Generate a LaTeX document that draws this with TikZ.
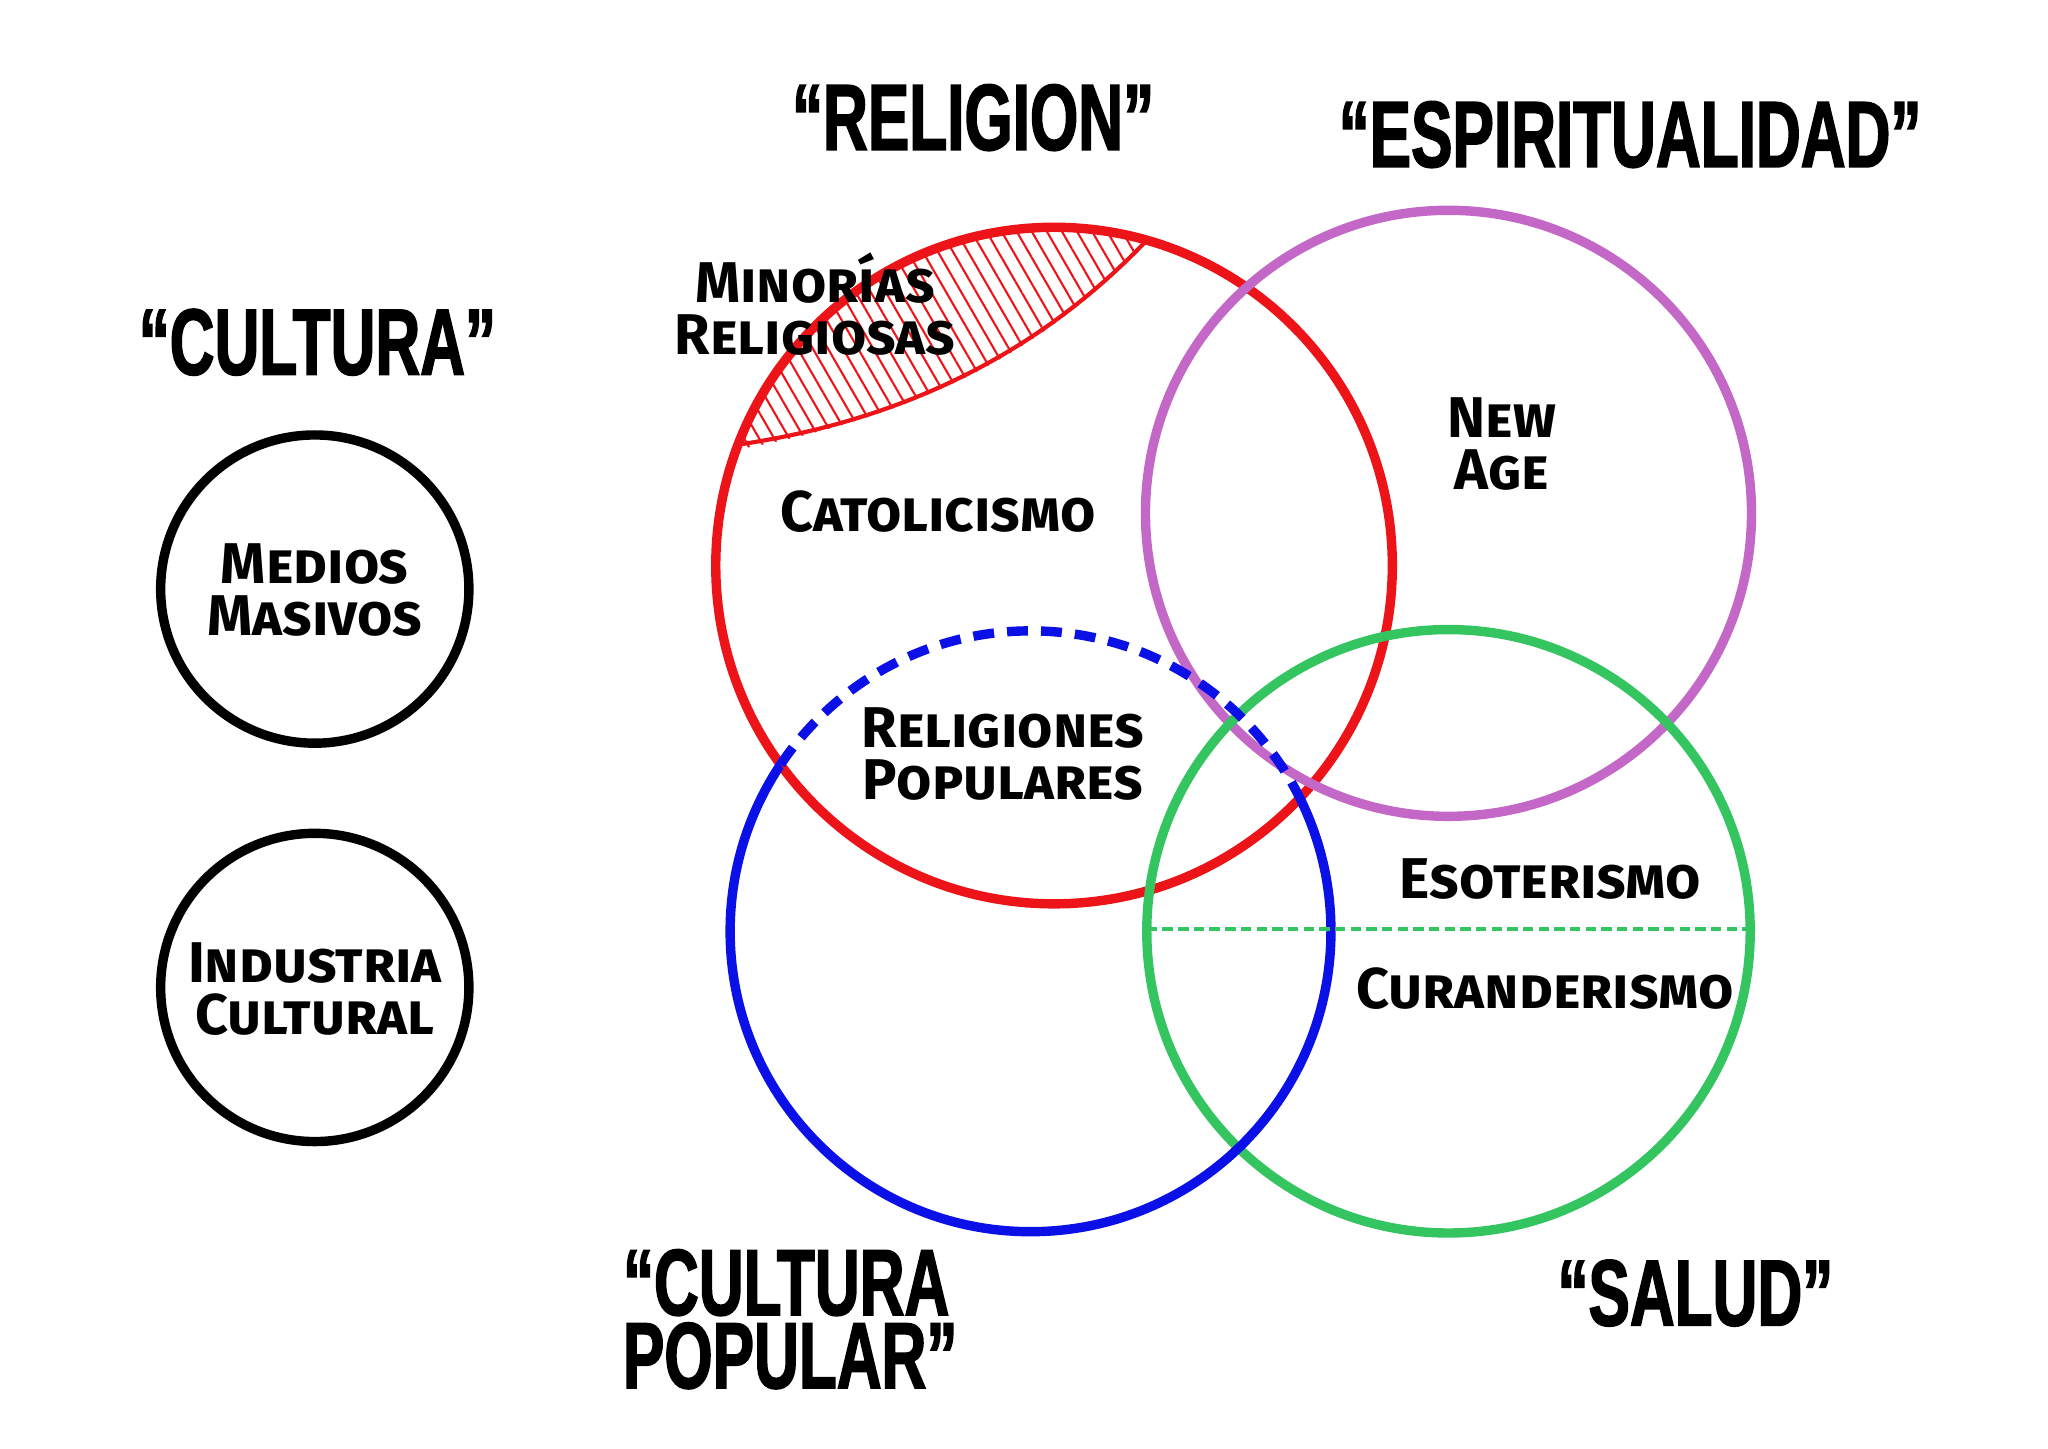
\documentclass[tikz,border=0pt]{standalone}
\usepackage{fontspec}
\usepackage{tikz}
\usetikzlibrary{patterns.meta}
\newfontfamily\titlefont{Liberation Sans Bold}[FakeStretch=0.66,FakeBold=1.6]
\newfontfamily\labelfont{Fira Sans}
\definecolor{rojo}{RGB}{236,20,24}
\definecolor{violeta}{RGB}{196,104,200}
\definecolor{azul}{RGB}{10,16,230}
\definecolor{verde}{RGB}{52,196,96}
\tikzstyle{title} = [font=\titlefont\fontsize{36}{28}\selectfont,align=left,inner sep=0pt]
\tikzstyle{label} = [font=\labelfont\fontsize{22}{20}\selectfont\bfseries\scshape,align=center,inner sep=0pt]
\tikzstyle{ring} = [line width=3.6pt]

\begin{document}
\begin{tikzpicture}[x=0.5pt,y=-0.5pt]
		\useasboundingbox (0,0) rectangle (1568,1109);
		% hatched minorities
		\begin{scope}
			\clip (807,433) circle (259);
			\fill[pattern={Lines[angle=-60,distance=5pt,line width=0.8pt]},pattern color=rojo]
				(560,345) .. controls (700,320) and (800,270) .. (876,186) -- (876,150) -- (560,150) -- cycle;
		\end{scope}
		\draw[rojo,line width=1.6pt] (568,340) .. controls (700,320) and (800,265) .. (876,186);

		\draw[ring,rojo] (807,433) circle (259);
		\draw[ring,violeta] (1109,393) circle (232);
		\draw[ring,verde] (1109,713) circle (231);
		\begin{scope}
			\clip (807,433) circle (259);
			\draw[ring,azul,dash pattern=on 8pt off 5pt] (789,713) circle (230);
		\end{scope}
		\begin{scope}[even odd rule]
			\clip (0,0) rectangle (1568,1109) (807,433) circle (259);
			\draw[ring,azul] (789,713) circle (230);
		\end{scope}
		\draw[verde,line width=1.6pt,dash pattern=on 4pt off 2pt] (878,711) -- (1339,711);

		\draw[ring,black] (241,451) circle (118);
		\draw[ring,black] (241,756) circle (118);

		% titles
		\node (religion)[title] at (745,90) {“RELIGION”};
		\node (espiritualidad)[title] at (1248,103) {“ESPIRITUALIDAD”};
		\node (cultura)[title] at (243,262) {“CULTURA”};
		\node (popular)[title] at (605,1010) {“CULTURA\\POPULAR”};
		\node (salud)[title] at (1298,990) {“SALUD”};

		% labels
		\node (medios)[label] at (241,452) {Medios\\Masivos};
		\node (industria)[label] at (241,757) {Industria\\Cultural};
		\node (minorias)[label] at (624,233) {Minorías\\Religiosas};
		\node (catolicismo)[label] at (718,392) {Catolicismo};
		\node (newage)[label] at (1150,340) {New\\Age};
		\node (religiones)[label] at (768,577) {Religiones\\Populares};
		\node (esoterismo)[label] at (1187,673) {Esoterismo};
		\node (curanderismo)[label] at (1183,757) {Curanderismo};
	\end{tikzpicture}
\end{document}
